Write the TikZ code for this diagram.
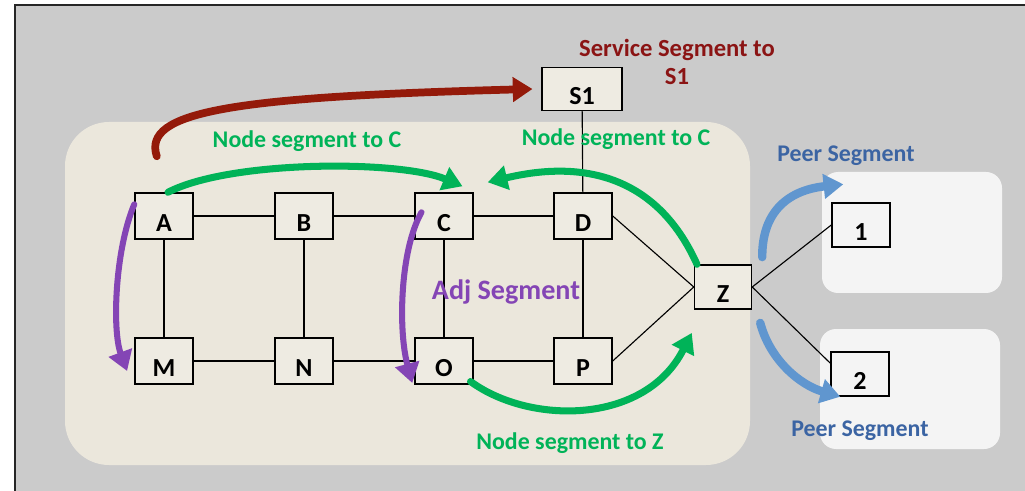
\documentclass[tikz,border=0pt]{standalone}
\usepackage{fontspec}
\setmainfont{Carlito}
\usetikzlibrary{arrows.meta}

\definecolor{bggray}{HTML}{CBCBCB}
\definecolor{areabeige}{HTML}{EBE7DC}
\definecolor{nodebeige}{HTML}{EEEBE2}
\definecolor{panelwhite}{HTML}{F4F4F4}
\definecolor{svcred}{HTML}{941A0A}
\definecolor{segred}{HTML}{8B1414}
\definecolor{nodegreen}{HTML}{00B358}
\definecolor{adjpurple}{HTML}{8445B5}
\definecolor{peerblue}{HTML}{6096CF}
\definecolor{peertext}{HTML}{3B64A3}

\begin{document}
\begin{tikzpicture}[x=0.025cm, y=-0.025cm,
    router/.style={rectangle, draw=black, line width=1pt, fill=nodebeige, minimum width=1.45cm, minimum height=1.15cm, inner sep=0pt, font=\fontsize{18.5}{22}\selectfont\bfseries, text height=22pt, text depth=0pt},
    link/.style={draw=black, line width=0.8pt},
    seg/.style={line width=5pt, line cap=round, -{Triangle[length=14pt, width=17pt]}},
    labeltext/.style={font=\fontsize{17}{21}\selectfont\bfseries, align=center, inner sep=0pt}
]
\useasboundingbox (0,0) rectangle (1025,491);

% Background, domain and peer panels
\fill[bggray] (15,5) rectangle (1025,491);
\draw[line width=1.4pt, black!85] (15,491) -- (15,5) -- (1025,5);
\fill[areabeige, rounded corners=1.1cm] (65,122) rectangle (750,465);
\fill[panelwhite, rounded corners=0.4cm] (822,172) rectangle (1002,293);
\fill[panelwhite, rounded corners=0.4cm] (820,329) rectangle (1000,449);

% Routers
\node[router] (A) at (164,216) {A};
\node[router] (B) at (304,216) {B};
\node[router] (C) at (444,216) {C};
\node[router] (D) at (583,216) {D};
\node[router] (M) at (164,361) {M};
\node[router] (N) at (304,361) {N};
\node[router] (O) at (444,361) {O};
\node[router] (P) at (583,361) {P};
\node[router, minimum width=1.425cm, minimum height=1.1cm] (Z) at (723,287) {Z};
\node[router, minimum width=2cm, minimum height=1.075cm] (s1) at (582,89) {S1};
\node[router, fill=panelwhite, minimum height=1.1cm] (p1) at (861,225) {1};
\node[router, fill=panelwhite, minimum height=1.1cm] (p2) at (860,374) {2};

% Links
\draw[link] (A) -- (B) -- (C) -- (D);
\draw[link] (M) -- (N) -- (O) -- (P);
\draw[link] (A) -- (M);
\draw[link] (B) -- (N);
\draw[link] (C) -- (O);
\draw[link] (D) -- (P);
\draw[link] (s1) -- (D);
\draw[link] (D.east) -- (Z.west);
\draw[link] (P.east) -- (Z.west);
\draw[link] (Z.east) -- (p1.west);
\draw[link] (Z.east) -- ([yshift=0.27cm]p2.west);

% Segments
\draw[seg, svcred, line width=5.5pt] ([xshift=-0.18cm, yshift=0.9cm]A.north) .. controls +(-15,-45) and +(-300,8) .. ([xshift=-0.22cm]s1.west);
\draw[seg, nodegreen] ([xshift=0.1cm]A.north) .. controls (230,160) and (400,160) .. ([xshift=-0.28cm, yshift=0.15cm]C.north east);
\draw[seg, nodegreen] ([xshift=0.08cm]Z.north west) .. controls (650,160) and (560,165) .. ([xshift=0.35cm, yshift=0.25cm]C.north east);
\draw[seg, nodegreen] ([xshift=-0.08cm, yshift=0.08cm]O.south east) .. controls (530,425) and (645,425) .. ([xshift=-0.05cm, yshift=-0.58cm]Z.south west);
\draw[seg, adjpurple, line width=4.3pt] ([yshift=-0.3cm]A.north west) .. controls (115,250) and (112,330) .. ([xshift=-0.18cm, yshift=-0.25cm]M.west);
\draw[seg, adjpurple, line width=4.3pt] ([xshift=0.18cm, yshift=-0.5cm]C.north west) .. controls (400,250) and (398,330) .. ([xshift=-0.05cm, yshift=-0.55cm]O.west);
\draw[seg, peerblue, line width=6pt] ([xshift=0.25cm, yshift=0.18cm]Z.north east) .. controls (762,210) and (790,190) .. ([xshift=0.3cm, yshift=0.45cm]p1.north west);
\draw[seg, peerblue, line width=6pt] ([xshift=0.2cm, yshift=-0.33cm]Z.south east) .. controls (770,360) and (800,385) .. ([xshift=0.25cm]p2.south west);

% Labels
\node[labeltext, text=segred, font=\fontsize{17.5}{19.5}\selectfont\bfseries] (svclabel) at (677,62) {Service Segment to\\S1};
\node[labeltext, text=nodegreen] (nodeac) at (307,141) {Node segment to C};
\node[labeltext, text=nodegreen] (nodezc) at (616,139) {Node segment to C};
\node[labeltext, text=nodegreen] (nodeoz) at (570,443) {Node segment to Z};
\node[labeltext, text=adjpurple, font=\fontsize{20}{24}\selectfont\bfseries] (adjlabel) at (506,292) {Adj Segment};
\node[labeltext, text=peertext] (peertop) at (846,156) {Peer Segment};
\node[labeltext, text=peertext] (peerbot) at (860,431) {Peer Segment};

\end{tikzpicture}
\end{document}
